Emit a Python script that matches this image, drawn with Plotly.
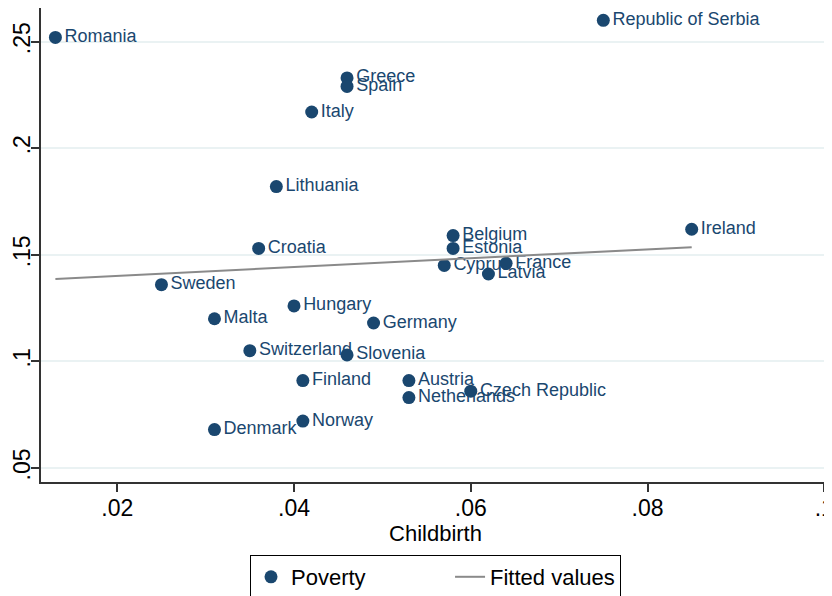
import plotly.graph_objects as go

countries = ["Romania", "Republic of Serbia", "Greece", "Spain", "Italy", "Lithuania",
             "Croatia", "Belgium", "Estonia", "Ireland", "Cyprus", "France", "Latvia",
             "Sweden", "Hungary", "Malta", "Germany", "Switzerland", "Slovenia",
             "Finland", "Austria", "Czech Republic", "Netherlands", "Norway", "Denmark"]
childbirth = [0.013, 0.075, 0.046, 0.046, 0.042, 0.038,
              0.036, 0.058, 0.058, 0.085, 0.057, 0.064, 0.062,
              0.025, 0.040, 0.031, 0.049, 0.035, 0.046,
              0.041, 0.053, 0.060, 0.053, 0.041, 0.031]
poverty = [0.252, 0.260, 0.233, 0.229, 0.217, 0.182,
           0.153, 0.159, 0.153, 0.162, 0.145, 0.146, 0.141,
           0.136, 0.126, 0.120, 0.118, 0.105, 0.103,
           0.091, 0.091, 0.086, 0.083, 0.072, 0.068]

fit_x = [0.013, 0.085]
fit_y = [0.1386, 0.1536]

x_ticks = [0.02, 0.04, 0.06, 0.08, 0.1]
x_ticklabels = [".02", ".04", ".06", ".08", ".1"]
y_ticks = [0.05, 0.1, 0.15, 0.2, 0.25]
y_ticklabels = [".05", ".1", ".15", ".2", ".25"]

navy = "#1a476f"
pad = "\u00a0" * 13

fig = go.Figure()
fig.add_trace(go.Scatter(
    x=childbirth, y=poverty, mode="markers+text", name="Poverty" + pad,
    text=countries, textposition="middle right",
    textfont=dict(family="Liberation Sans, Arial", size=18, color=navy),
    marker=dict(size=13, color=navy),
    cliponaxis=False,
))
fig.add_trace(go.Scatter(
    x=fit_x, y=fit_y, mode="lines", name="Fitted values",
    line=dict(color="#8a8a8a", width=2),
))

fig.update_layout(
    width=824, height=588,
    margin=dict(l=33, r=2, t=0, b=114, autoexpand=False),
    paper_bgcolor="white", plot_bgcolor="white",
    font=dict(family="Liberation Sans, Arial", size=22, color="black"),
    showlegend=True,
    legend=dict(
        orientation="h", x=0.5, xanchor="center", y=-0.154, yanchor="top",
        bordercolor="black", borderwidth=1,
        font=dict(size=22), itemwidth=30,
        tracegroupgap=0,
    ),
    xaxis=dict(
        range=[0.01137, 0.10065], automargin=False,
        tickvals=x_ticks, ticktext=x_ticklabels,
        ticklabeloverflow="allow", ticklabelstandoff=-3,
        showgrid=False, zeroline=False,
        showline=True, linecolor="#333333", linewidth=1.5,
        ticks="outside", ticklen=8, tickcolor="#333333", tickwidth=1.5,
        tickfont=dict(size=23),
        title=dict(text="Childbirth", font=dict(size=22), standoff=0),
    ),
    yaxis=dict(
        range=[0.0434, 0.2658], automargin=False,
        tickvals=y_ticks, ticktext=y_ticklabels,
        ticklabeloverflow="allow", ticklabelstandoff=-8,
        showgrid=True, gridcolor="#eaf2f3", gridwidth=1.5,
        zeroline=False,
        showline=True, linecolor="#333333", linewidth=1.5,
        ticks="outside", ticklen=8, tickcolor="#333333", tickwidth=1.5,
        tickangle=-90, tickfont=dict(size=23),
    ),
)

fig.write_html("out.html")
